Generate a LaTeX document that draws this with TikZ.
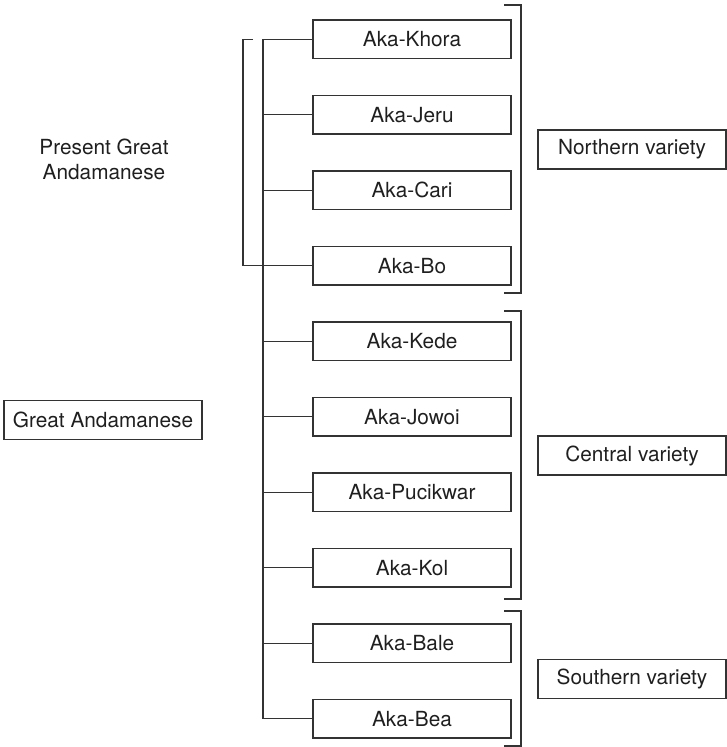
\documentclass[tikz,border=0pt]{standalone}
\usepackage{fontspec}
\setmainfont{TeX Gyre Heros}
\begin{document}
\begin{tikzpicture}[x=1pt,y=-1pt,
  ink/.style={draw=black!80, line width=1.1pt},
  boxtext/.style={font=\fontsize{20.8}{25}\selectfont, text=black!88},
  lang/.style={ink, boxtext, inner sep=0pt, minimum width=198pt, minimum height=38.5pt},
  variety/.style={ink, boxtext, inner sep=0pt, minimum width=188pt, minimum height=39pt},
  label/.style={boxtext, inner sep=0pt, align=center}
]
\useasboundingbox (0,0) rectangle (727,747);

% language boxes
\node[lang] (khora)    at (412, 39.25) {Aka-Khora};
\node[lang] (jeru)     at (412,114.75) {Aka-Jeru};
\node[lang] (cari)     at (412,190.25) {Aka-Cari};
\node[lang] (bo)       at (412,265.75) {Aka-Bo};
\node[lang] (kede)     at (412,341.25) {Aka-Kede};
\node[lang] (jowoi)    at (412,416.75) {Aka-Jowoi};
\node[lang] (pucikwar) at (412,492.25) {Aka-Pucikwar};
\node[lang] (kol)      at (412,567.75) {Aka-Kol};
\node[lang] (bale)     at (412,643.25) {Aka-Bale};
\node[lang] (bea)      at (412,718.75) {Aka-Bea};

% group labels
\node[lang] (great) at (103,420) {Great Andamanese};
\node[label] (present) at (104,159) {Present Great\\Andamanese};

\node[variety] (north)   at (632,149.5) {Northern variety};
\node[variety] (central) at (632,455.5) {Central variety};
\node[variety] (south)   at (632,679)   {Southern variety};

% tree trunk and branches
\coordinate (trunk) at (263,0);
\draw[ink] (khora.west) -- (khora.west -| trunk) -- (bea.west -| trunk) -- (bea.west);
\foreach \n in {jeru,cari,bo,kede,jowoi,pucikwar,kol,bale}
  \draw[ink] (\n.west) -- (\n.west -| trunk);

% bracket of the present-day languages
\coordinate (pga) at (243,0);
\coordinate (pgaend) at (253,0);
\draw[ink] (khora.west -| pgaend) -- (khora.west -| pga) -- (bo.west -| pga) -- (bo.west -| trunk);

% brackets of the three varieties
\coordinate (nTop) at (504,5);   \coordinate (nBot) at (504,293);
\coordinate (cTop) at (504,311); \coordinate (cBot) at (504,599);
\coordinate (sTop) at (504,611); \coordinate (sBot) at (504,746);
\draw[ink] (nTop) -- ++(17,0) |- (nBot);
\draw[ink] (cTop) -- ++(17,0) |- (cBot);
\draw[ink] (sTop) -- ++(17,0) |- (sBot);
\end{tikzpicture}
\end{document}
